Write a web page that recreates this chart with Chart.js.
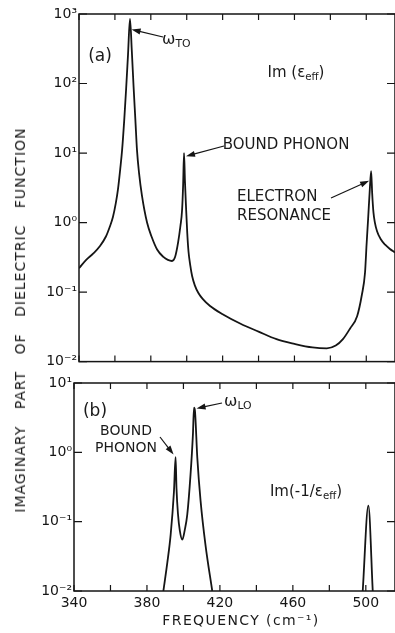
<!DOCTYPE html>
<html>
<head>
<meta charset="utf-8">
<script src="https://cdn.jsdelivr.net/npm/chart.js@4.4.1/dist/chart.umd.min.js"></script>
<style>
  body { margin: 0; background: #fff; }
  #page { position: relative; width: 395px; height: 633px; overflow: hidden; font-family: "DejaVu Sans", sans-serif; color: #1a1a1a; }
  canvas { position: absolute; left: 0; }
  .note { position: absolute; white-space: nowrap; line-height: 1; }
  .note sub { font-size: 0.68em; vertical-align: -0.3em; }
  .c { transform: translate(-50%, -50%); text-align: center; }
  #ytitle { position: absolute; left: 20px; top: 320px; transform: translate(-50%, -50%) rotate(-90deg); font-size: 14px; letter-spacing: 1px; word-spacing: 11px; white-space: nowrap; }
  #xtitle { position: absolute; left: 241px; top: 620px; transform: translate(-50%, -50%); font-size: 14px; letter-spacing: 1.4px; white-space: nowrap; }
</style>
</head>
<body>
<div id="page">
  <canvas id="topChart" width="395" height="372" style="top:0"></canvas>
  <canvas id="bottomChart" width="395" height="261" style="top:372px"></canvas>

  <div id="ytitle">IMAGINARY PART OF DIELECTRIC FUNCTION</div>
  <div id="xtitle">FREQUENCY (cm⁻¹)</div>

  <div class="note c" style="left:100px; top:55px; font-size:17px">(a)</div>
  <div class="note" style="left:162px; top:31px; font-size:16px">ω<sub>TO</sub></div>
  <div class="note c" style="left:296px; top:74px; font-size:15px">Im (ε<sub>eff</sub>)</div>
  <div class="note c" style="left:286px; top:144px; font-size:15px">BOUND PHONON</div>
  <div class="note" style="left:237px; top:187px; font-size:15px; line-height:19px">ELECTRON<br>RESONANCE</div>

  <div class="note c" style="left:95px; top:410px; font-size:17px">(b)</div>
  <div class="note c" style="left:126px; top:439px; font-size:14px; line-height:17px">BOUND<br>PHONON</div>
  <div class="note" style="left:224px; top:393px; font-size:16px">ω<sub>LO</sub></div>
  <div class="note c" style="left:306px; top:493px; font-size:15px">Im(-1/ε<sub>eff</sub>)</div>
</div>
<script>
const ink = "#151515";

// frequency ticks (cm^-1), labelled every 40
const xTicks = [340, 360, 380, 400, 420, 440, 460, 480, 500];
const topDecades = [0.01, 0.1, 1, 10, 100, 1000];
const bottomDecades = [0.01, 0.1, 1, 10];

// (a) Im(eps_eff)
const topFreq = [340, 344, 348, 351.7, 355, 357, 358.9, 360.5, 361.7, 363, 364, 365.2, 366.2, 367.3, 368.4,
  369.4, 370.4, 371.4, 372.3, 373.5, 375, 377.9, 380.5, 383.5, 387, 389.5, 391.8, 393.5, 395.2, 396.5, 397.4, 398, 398.5,
  399, 399.6, 400.3, 401, 402, 403, 404.5, 406.5, 409, 413, 420, 430, 440, 450, 460, 470, 478,
  483, 487, 491, 494.9, 497.5, 499.3, 500.2, 501.0, 501.9, 502.7,
  503.3, 504, 504.8, 506, 508, 510.5, 513, 516];
const topValue = [0.22, 0.29, 0.36, 0.46, 0.63, 0.85, 1.2, 1.9, 3, 6, 11, 30, 80, 260, 850,
  300, 90, 30, 11, 5, 2.5, 1.0, 0.62, 0.41, 0.32, 0.29, 0.28, 0.32, 0.52, 0.9, 1.5, 3.5, 10,
  4, 1.7, 0.7, 0.38, 0.24, 0.17, 0.125, 0.097, 0.079, 0.063, 0.048, 0.035, 0.027, 0.021, 0.018, 0.016, 0.0155,
  0.017, 0.021, 0.03, 0.045, 0.09, 0.19, 0.5, 1.1, 2.8, 5.5,
  2.6, 1.4, 1.0, 0.75, 0.58, 0.48, 0.42, 0.37];

// (b) Im(-1/eps_eff)
const bottomFreq = [389, 391.2, 393, 394.8, 395.7, 396.2, 397, 398, 399.4, 400.7, 402.1, 403.9, 405.2, 405.8, 406.3, 407.6, 409.4, 412.1, 415.8,
  450, 498.3, 501.4, 503.8];
const bottomValue = [0.01, 0.026, 0.065, 0.27, 0.85, 0.3, 0.13, 0.075, 0.055, 0.075, 0.126, 0.48, 1.8, 4.4, 4.0, 0.84, 0.2, 0.046, 0.01,
  null, 0.01, 0.17, 0.01];

const sup = { "-": "⁻", "0": "⁰", "1": "¹", "2": "²", "3": "³" };
function decadeLabel(v) {
  const e = String(Math.round(Math.log10(v)));
  return "10" + e.split("").map(c => sup[c]).join("");
}

function points(xs, ys) {
  return xs.map((x, i) => ({ x: x, y: ys[i] }));
}

// box round the plot with ticks pointing inward
const frameTicks = {
  id: "frameTicks",
  afterDatasetsDraw(chart, args, opts) {
    const { ctx, chartArea: a, scales: { x, y } } = chart;
    ctx.save();
    ctx.strokeStyle = ink;
    ctx.lineWidth = 1.5;
    ctx.strokeRect(a.left, a.top, a.width, a.height);
    ctx.lineWidth = 1.2;
    ctx.beginPath();
    xTicks.forEach(v => {
      const px = x.getPixelForValue(v);
      ctx.moveTo(px, a.bottom); ctx.lineTo(px, a.bottom - 6);
      ctx.moveTo(px, a.top); ctx.lineTo(px, a.top + 6);
    });
    opts.decades.forEach(v => {
      const py = y.getPixelForValue(v);
      ctx.moveTo(a.left, py); ctx.lineTo(a.left + 8, py);
      ctx.moveTo(a.right, py); ctx.lineTo(a.right - 8, py);
    });
    ctx.stroke();
    ctx.restore();
  }
};

const arrows = {
  id: "arrows",
  afterDatasetsDraw(chart, args, opts) {
    const { ctx, scales: { x, y } } = chart;
    ctx.save();
    ctx.strokeStyle = ink;
    ctx.fillStyle = ink;
    ctx.lineWidth = 1.2;
    opts.items.forEach(a => {
      const hx = x.getPixelForValue(a.at[0]), hy = y.getPixelForValue(a.at[1]);
      const [tx, ty] = a.tail;
      const ang = Math.atan2(hy - ty, hx - tx), c = Math.cos(ang), s = Math.sin(ang);
      ctx.beginPath();
      ctx.moveTo(tx, ty);
      ctx.lineTo(hx - 6 * c, hy - 6 * s);
      ctx.stroke();
      ctx.beginPath();
      ctx.moveTo(hx, hy);
      ctx.lineTo(hx - 9 * c + 3 * s, hy - 9 * s - 3 * c);
      ctx.lineTo(hx - 9 * c - 3 * s, hy - 9 * s + 3 * c);
      ctx.closePath();
      ctx.fill();
    });
    ctx.restore();
  }
};

function makeChart(id, data, decades, opts) {
  return new Chart(document.getElementById(id), {
    type: "line",
    data: {
      datasets: [{
        data: data,
        borderColor: ink,
        borderWidth: 1.8,
        pointRadius: 0,
        fill: false,
        spanGaps: false,
        cubicInterpolationMode: "monotone"
      }]
    },
    plugins: [frameTicks, arrows],
    options: {
      responsive: false,
      animation: false,
      events: [],
      layout: { padding: { top: opts.padTop, right: 0, left: 0, bottom: 0 } },
      plugins: {
        legend: { display: false },
        tooltip: { enabled: false },
        frameTicks: { decades: decades },
        arrows: { items: opts.arrows }
      },
      scales: {
        x: {
          type: "linear",
          min: 340,
          max: 516,
          afterBuildTicks: s => { s.ticks = xTicks.map(v => ({ value: v })); },
          ticks: {
            display: opts.xLabels,
            autoSkip: false,
            maxRotation: 0,
            padding: 4,
            color: ink,
            font: { family: "DejaVu Sans", size: 14 },
            callback: v => ((v - 340) % 40 === 0 ? String(v) : "")
          },
          grid: { display: false, drawTicks: false },
          border: { display: false },
          afterFit: s => { s.height = opts.xHeight; }
        },
        y: {
          type: "logarithmic",
          min: decades[0],
          max: decades[decades.length - 1],
          afterBuildTicks: s => { s.ticks = decades.map(v => ({ value: v })); },
          ticks: {
            padding: 2,
            color: ink,
            font: { family: "DejaVu Sans", size: 14 },
            callback: v => decadeLabel(v)
          },
          grid: { display: false, drawTicks: false },
          border: { display: false },
          afterFit: s => { s.width = opts.yWidth; }
        }
      }
    }
  });
}

makeChart("topChart", points(topFreq, topValue), topDecades, {
  padTop: 14, xHeight: 8, yWidth: 79, xLabels: false,
  arrows: [
    { tail: [163, 37], at: [369.3, 600] },
    { tail: [224, 146], at: [399.6, 9] },
    { tail: [331, 198], at: [501.6, 4] }
  ]
});

makeChart("bottomChart", points(bottomFreq, bottomValue), bottomDecades, {
  padTop: 11, xHeight: 42, yWidth: 74, xLabels: true,
  arrows: [
    { tail: [160, 65], at: [394.6, 0.93] },
    { tail: [222, 31], at: [407.2, 4.3] }
  ]
});
</script>
</body>
</html>
